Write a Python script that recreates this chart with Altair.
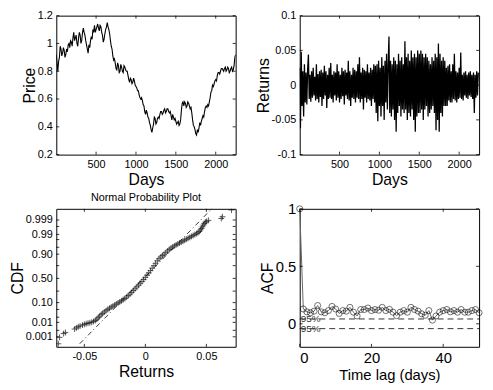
import altair as alt
import pandas as pd

# ---------------- data ----------------
price_values = [
    0.92, 0.86, 0.80, 0.87, 0.90, 0.98, 0.96, 0.91, 0.93, 0.97, 0.95, 0.90, 0.92, 0.96, 0.94, 0.99, 1.00, 0.97, 1.02, 1.01,
    0.98, 1.04, 1.08, 1.02, 1.04, 1.06, 1.00, 0.98, 1.04, 1.08, 1.06, 1.00, 1.02, 1.08, 1.11, 1.08, 1.06, 1.02, 0.99, 0.96,
    0.93, 0.99, 0.97, 1.02, 1.05, 1.03, 1.10, 1.08, 1.13, 1.08, 1.10, 1.12, 1.14, 1.11, 1.09, 1.13, 1.12, 1.08, 1.06, 1.01,
    1.03, 1.07, 1.10, 1.12, 1.15, 1.12, 1.10, 1.07, 1.02, 0.98, 0.96, 0.91, 0.88, 0.89, 0.86, 0.82, 0.81, 0.86, 0.84, 0.79,
    0.80, 0.85, 0.83, 0.80, 0.79, 0.84, 0.83, 0.81, 0.80, 0.80, 0.77, 0.74, 0.72, 0.75, 0.74, 0.71, 0.72, 0.75, 0.73, 0.70,
    0.69, 0.68, 0.66, 0.66, 0.63, 0.61, 0.60, 0.61, 0.59, 0.56, 0.55, 0.51, 0.49, 0.52, 0.50, 0.47, 0.46, 0.43, 0.41, 0.38,
    0.36, 0.39, 0.42, 0.47, 0.46, 0.42, 0.43, 0.46, 0.47, 0.46, 0.49, 0.51, 0.51, 0.49, 0.50, 0.52, 0.53, 0.50, 0.51, 0.53,
    0.53, 0.51, 0.50, 0.51, 0.48, 0.45, 0.49, 0.47, 0.45, 0.46, 0.44, 0.42, 0.43, 0.44, 0.41, 0.42, 0.45, 0.52, 0.57, 0.58,
    0.55, 0.58, 0.57, 0.54, 0.55, 0.58, 0.57, 0.55, 0.53, 0.54, 0.50, 0.45, 0.41, 0.40, 0.38, 0.35, 0.34, 0.38, 0.36, 0.39,
    0.43, 0.41, 0.44, 0.46, 0.48, 0.47, 0.51, 0.54, 0.55, 0.54, 0.56, 0.55, 0.58, 0.61, 0.65, 0.66, 0.70, 0.69, 0.71, 0.73,
    0.74, 0.73, 0.77, 0.79, 0.79, 0.78, 0.80, 0.82, 0.82, 0.81, 0.80, 0.82, 0.83, 0.80, 0.81, 0.83, 0.82, 0.79, 0.80, 0.82,
    0.83, 0.80, 0.81, 0.84, 0.90, 0.92,
]
price_days = [10 * i for i in range(len(price_values))]

returns_values = [
    0.025, -0.062, 0.048, -0.030, 0.020, -0.045, 0.030, -0.025, 0.018, -0.028, 0.022,
    0.044, -0.020, 0.015, -0.024, 0.020, -0.018, 0.025, -0.015, 0.012, -0.022,
    0.030, -0.020, 0.016, -0.025, 0.020, -0.017, 0.022, -0.030, 0.018, -0.020,
    0.028, -0.015, 0.020, -0.033, 0.015, -0.020, 0.025, -0.018, 0.032, -0.020,
    0.015, -0.025, 0.020, -0.015, 0.018, -0.022, 0.030, -0.018, 0.020, -0.025,
    0.015, -0.020, 0.025, -0.016, 0.020, -0.028, 0.022, -0.015, 0.018, -0.020,
    0.035, -0.022, 0.020, -0.030, 0.015, -0.018, 0.025, -0.020, 0.022, -0.025,
    0.020, -0.018, 0.030, -0.020, 0.040, -0.025, 0.018, -0.020, 0.025, -0.035,
    0.022, -0.018, 0.020, -0.025, 0.030, -0.020, 0.018, -0.022, 0.025, -0.030,
    0.022, -0.020, 0.030, -0.025, 0.028, -0.040, 0.030, -0.052, 0.035, -0.030,
    0.025, -0.045, 0.040, -0.030, 0.028, -0.050, 0.035, -0.025, 0.045, -0.035,
    0.030, 0.070, -0.040, 0.035, -0.045, 0.030, -0.035, 0.040, -0.050, 0.035,
    -0.067, 0.030, -0.040, 0.045, -0.030, 0.035, -0.045, 0.040, -0.035, 0.030,
    -0.040, 0.063, -0.035, 0.040, -0.050, 0.045, -0.040, 0.035, -0.045, 0.050,
    -0.035, 0.040, -0.050, 0.045, -0.067, 0.040, -0.045, 0.050, -0.040, 0.045,
    -0.040, 0.050, -0.035, 0.045, -0.050, 0.040, -0.035, 0.045, -0.030, 0.040,
    -0.045, 0.035, -0.040, 0.030, -0.035, 0.040, -0.030, 0.035, -0.040, 0.045,
    -0.065, 0.040, -0.050, 0.060, -0.067, 0.045, -0.040, 0.035, -0.045, 0.040,
    -0.030, 0.035, -0.030, 0.025, -0.030, 0.028, -0.022, 0.030, -0.025, 0.020,
    -0.025, 0.030, -0.020, 0.045, -0.022, 0.020, -0.025, 0.018, -0.020, 0.025,
    -0.018, 0.047, -0.020, 0.015, -0.022, 0.018, -0.015, 0.020, -0.018, 0.015,
    -0.020, 0.018, -0.015, 0.020, -0.017, 0.015, -0.020, 0.018, -0.040, 0.015,
    -0.018, 0.020, -0.015, 0.018,
]
returns_days = [10 * i for i in range(len(returns_values))]

# normal probability plot: sorted returns vs normal quantile (z)
npp_returns = [
    -0.0713, -0.0703, -0.0670, -0.0655, -0.0580, -0.0565, -0.0550, -0.0535, -0.0515, -0.0500,
    -0.0485, -0.0470, -0.0455, -0.0440, -0.0425, -0.0410, -0.0398, -0.0386, -0.0375, -0.0362,
    -0.0350, -0.0336, -0.0322, -0.0308, -0.0294, -0.0280, -0.0266, -0.0252, -0.0238, -0.0224,
    -0.0210, -0.0196, -0.0182, -0.0168, -0.0154, -0.0140, -0.0126, -0.0112, -0.0098, -0.0084,
    -0.0070, -0.0056, -0.0042, -0.0028, -0.0014, 0.0000, 0.0014, 0.0028, 0.0042, 0.0056,
    0.0070, 0.0084, 0.0098, 0.0112, 0.0126, 0.0140, 0.0154, 0.0168, 0.0182, 0.0196,
    0.0210, 0.0224, 0.0238, 0.0252, 0.0266, 0.0280, 0.0294, 0.0308, 0.0322, 0.0336,
    0.0350, 0.0364, 0.0378, 0.0392, 0.0406, 0.0420, 0.0432, 0.0442, 0.0452, 0.0460,
    0.0468, 0.0475, 0.0483, 0.0492, 0.0502, 0.0517, 0.0622, 0.0632, 0.0706,
]
npp_z = [
    -3.46, -3.12, -2.92, -2.86, -2.68, -2.62, -2.56, -2.52, -2.47, -2.43,
    -2.40, -2.37, -2.35, -2.32, -2.28, -2.23, -2.16, -2.08, -2.00, -1.92,
    -1.85, -1.78, -1.71, -1.64, -1.58, -1.52, -1.47, -1.41, -1.36, -1.30,
    -1.25, -1.19, -1.13, -1.06, -0.99, -0.91, -0.83, -0.74, -0.64, -0.55,
    -0.45, -0.36, -0.26, -0.16, -0.06, 0.05, 0.17, 0.29, 0.41, 0.54,
    0.67, 0.80, 0.93, 1.04, 1.13, 1.21, 1.28, 1.36, 1.45, 1.53,
    1.60, 1.66, 1.72, 1.77, 1.82, 1.87, 1.92, 1.97, 2.02, 2.07,
    2.12, 2.17, 2.22, 2.27, 2.32, 2.37, 2.42, 2.48, 2.56, 2.64,
    2.73, 2.82, 2.90, 2.97, 3.02, 3.07, 3.17, 3.26, 3.62,
]
cdf_tick_z = [-3.090, -2.326, -1.2816, 0.0, 1.2816, 2.326, 3.090]
cdf_tick_labels = ["0.001", "0.01", "0.10", "0.50", "0.90", "0.99", "0.999"]
cdf_minor_z = [-2.748, -2.054, -1.645, -0.674, 0.674, 1.645, 2.054, 2.748]
ref_line_returns = [-0.0538, 0.0554]
ref_line_z = [-3.46, 3.75]

acf_values = [
    1.0, 0.129, 0.104, 0.096, 0.110, 0.159, 0.104, 0.096, 0.115, 0.151,
    0.129, 0.090, 0.115, 0.110, 0.143, 0.101, 0.068, 0.124, 0.124, 0.137,
    0.115, 0.124, 0.118, 0.143, 0.115, 0.126, 0.101, 0.071, 0.101, 0.115,
    0.101, 0.143, 0.124, 0.110, 0.087, 0.074, 0.115, 0.032, 0.068, 0.101,
    0.115, 0.124, 0.104, 0.115, 0.101, 0.124, 0.101, 0.101, 0.115, 0.124,
    0.096,
]
acf_lags = list(range(len(acf_values)))
conf_bounds = [0.042, -0.042]
conf_labels = ["95%", "95%"]

day_ticks = [500, 1000, 1500, 2000]
price_ticks = [0.2, 0.4, 0.6, 0.8, 1.0, 1.2]
ret_ticks = [-0.1, -0.05, 0, 0.05, 0.1]
npp_x_ticks = [-0.05, 0, 0.05]
lag_ticks = [0, 20, 40]
acf_ticks = [0, 0.5, 1]

# ---------------- charts ----------------
W = 182
H_TOP, H_BOT = 141, 140
FONT = "Liberation Sans"
minus_fix = "replace(format(datum.value, '~g'), '\u2212', '-')"


def inward_ticks(x_enc, x_field, xvals, y_enc, y_field, yvals, w, h, length=3):
    xdf = pd.DataFrame({x_field: xvals})
    ydf = pd.DataFrame({y_field: yvals})
    style = dict(color="black", strokeWidth=0.8)
    return [
        alt.Chart(xdf).mark_rule(**style).encode(x=x_enc, y=alt.value(h), y2=alt.value(h - length)),
        alt.Chart(xdf).mark_rule(**style).encode(x=x_enc, y=alt.value(0), y2=alt.value(length)),
        alt.Chart(ydf).mark_rule(**style).encode(y=y_enc, x=alt.value(0), x2=alt.value(length)),
        alt.Chart(ydf).mark_rule(**style).encode(y=y_enc, x=alt.value(w), x2=alt.value(w - length)),
    ]


# top-left: price
day_x = alt.X("day:Q", scale=alt.Scale(domain=[1, 2250], nice=False, zero=False),
              axis=alt.Axis(values=day_ticks, labelExpr=minus_fix, title="Days"))
price_y = alt.Y("price:Q", scale=alt.Scale(domain=[0.2, 1.2], nice=False, zero=False),
                axis=alt.Axis(values=price_ticks, labelExpr=minus_fix, title="Price"))
price_df = pd.DataFrame({"day": price_days, "price": price_values})
tl_line = alt.Chart(price_df).mark_line(color="black", strokeWidth=1.1, clip=True).encode(x=day_x, y=price_y)
tl = alt.layer(tl_line, *inward_ticks(day_x, "day", day_ticks, price_y, "price", price_ticks, W, H_TOP)).properties(
    width=W, height=H_TOP)

# top-right: returns
ret_y = alt.Y("ret:Q", scale=alt.Scale(domain=[-0.1, 0.1], nice=False),
              axis=alt.Axis(values=ret_ticks, labelExpr=minus_fix, title="Returns"))
ret_df = pd.DataFrame({"day": returns_days, "ret": returns_values})
tr_line = alt.Chart(ret_df).mark_line(color="black", strokeWidth=1.3, clip=True).encode(x=day_x, y=ret_y)
tr = alt.layer(tr_line, *inward_ticks(day_x, "day", day_ticks, ret_y, "ret", ret_ticks, W, H_TOP)).properties(
    width=W, height=H_TOP)

# bottom-left: normal probability plot
npp_df = pd.DataFrame({"r": npp_returns, "z": npp_z})
ref_df = pd.DataFrame({"r": ref_line_returns, "z": ref_line_z})
cdf_label_expr = "[" + ",".join("'%s'" % s for s in cdf_tick_labels) + "][indexof([" + \
    ",".join(str(v) for v in cdf_tick_z) + "], datum.value)]"

npp_x = alt.X("r:Q", scale=alt.Scale(domain=[-0.073, 0.074], nice=False),
              axis=alt.Axis(values=npp_x_ticks, labelExpr=minus_fix, title="Returns"))
npp_y = alt.Y("z:Q", scale=alt.Scale(domain=[-3.62, 3.68], nice=False),
              axis=alt.Axis(values=cdf_tick_z, labelExpr=cdf_label_expr, title="CDF"))
npp_ref = alt.Chart(ref_df).mark_line(color="black", strokeWidth=0.8, strokeDash=[5, 3, 1, 3], clip=True).encode(
    x=npp_x, y=npp_y)
npp_pts = alt.Chart(npp_df).mark_point(
    shape="M-1,0H1M0,-1V1", filled=False, color="black", size=36, strokeWidth=0.9, clip=True
).encode(x=npp_x, y=npp_y)
bl = alt.layer(npp_ref, npp_pts,
               *inward_ticks(npp_x, "r", npp_x_ticks, npp_y, "z", cdf_tick_z + cdf_minor_z, W, H_BOT)).properties(
    width=W, height=H_BOT,
    title=alt.TitleParams("Normal Probability Plot", fontSize=11, fontWeight="normal", font=FONT, offset=6),
)

# bottom-right: ACF
acf_df = pd.DataFrame({"lag": acf_lags, "acf": acf_values})
conf_df = pd.DataFrame({"acf": conf_bounds, "label": conf_labels})
acf_x = alt.X("lag:Q", scale=alt.Scale(domain=[0, 50], nice=False),
              axis=alt.Axis(values=lag_ticks, labelExpr=minus_fix, title="Time lag (days)",
                            labelFontSize=15, titleFontSize=15))
acf_y = alt.Y("acf:Q", scale=alt.Scale(domain=[-0.2, 1], nice=False),
              axis=alt.Axis(values=acf_ticks, labelExpr=minus_fix, title="ACF", labelFontSize=15))
acf_line = alt.Chart(acf_df).mark_line(color="#666666", strokeWidth=1).encode(x=acf_x, y=acf_y)
acf_pts = alt.Chart(acf_df).mark_point(shape="circle", filled=False, color="black", size=38, strokeWidth=0.8).encode(
    x=acf_x, y=acf_y)
conf_rule = alt.Chart(conf_df).mark_rule(color="black", strokeWidth=0.8, strokeDash=[6, 4]).encode(
    y=acf_y, x=alt.value(0), x2=alt.value(W))
conf_text = alt.Chart(conf_df).mark_text(align="left", baseline="middle", fontSize=10, font=FONT,
                                         color="#333333", dx=1).encode(
    y=acf_y, x=alt.value(0), text="label:N")
br = alt.layer(acf_line, conf_rule, conf_text, acf_pts,
               *inward_ticks(acf_x, "lag", lag_ticks, acf_y, "acf", acf_ticks, W, H_BOT)).properties(
    width=W, height=H_BOT)

chart = alt.concat(tl, tr, bl, br, columns=2, spacing={"row": 55, "column": 65}).properties(
    bounds="flush", padding={"left": 0, "top": -2, "right": 0, "bottom": 0},
    autosize=alt.AutoSizeParams(type="pad"), background="white"
).configure_axis(
    labelFont=FONT, titleFont=FONT, labelFontSize=11, titleFontSize=16, titleFontWeight="normal",
    labelColor="black", titleColor="black", domain=False, ticks=False, grid=False,
    labelPadding=4, titlePadding=2,
).configure_axisY(titlePadding=0).configure_view(stroke="black", strokeWidth=1)

chart.save("out.html", embed_options={"renderer": "svg", "actions": False})
